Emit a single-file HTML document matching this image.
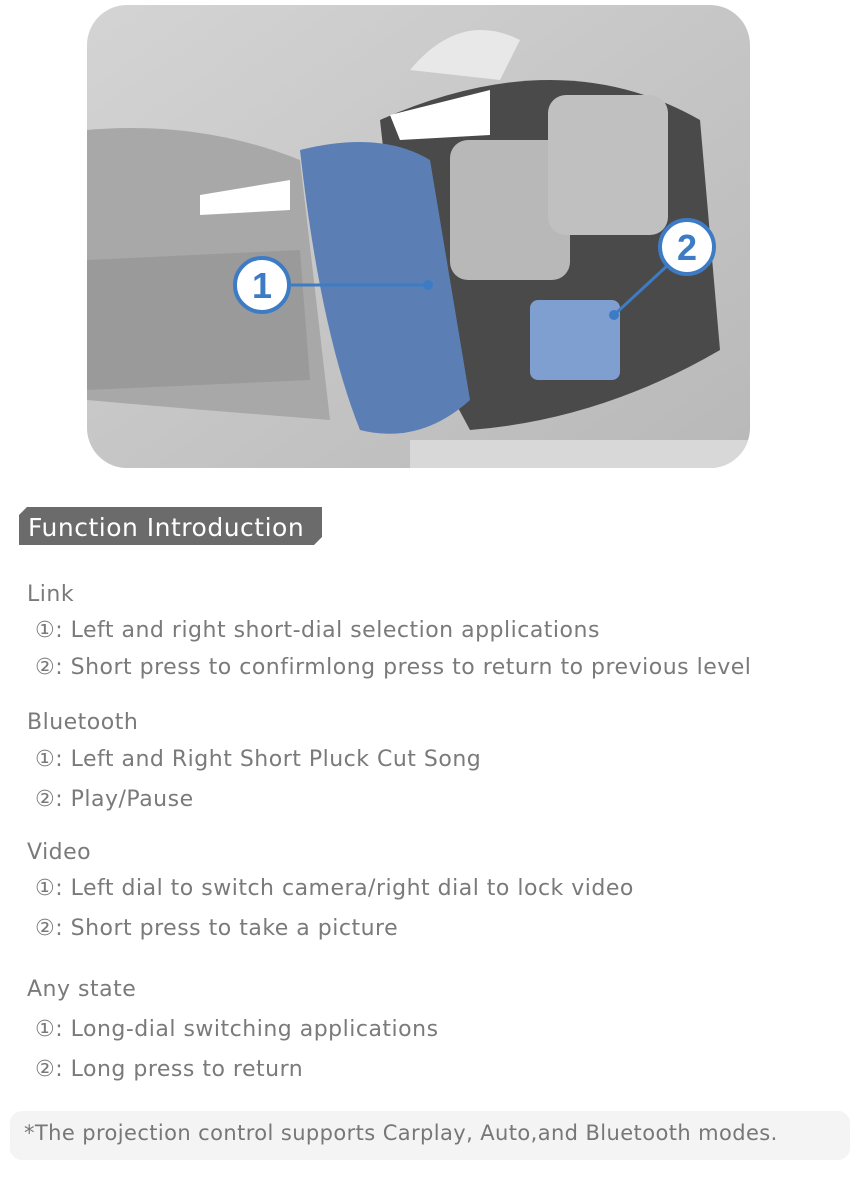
<!DOCTYPE html>
<html><head><meta charset="utf-8"><style>
body{margin:0;width:857px;height:1177px;background:#fff;position:relative;overflow:hidden;font-family:"DejaVu Sans",sans-serif;color:#7a7a7a}
.t{position:absolute;font-size:22px;letter-spacing:0.5px;white-space:nowrap}
.h{left:27px}
.i{left:35px}
</style></head><body>
<svg style="position:absolute;left:0;top:0" width="857" height="480">
<defs><linearGradient id="g" x1="0" y1="0" x2="1" y2="1"><stop offset="0" stop-color="#d4d4d4"/><stop offset="1" stop-color="#b8b8b8"/></linearGradient>
<clipPath id="c"><rect x="87" y="5" width="663" height="463" rx="40"/></clipPath></defs>
<g clip-path="url(#c)">
<rect x="87" y="5" width="663" height="463" fill="url(#g)"/>
<path d="M87 130 Q200 120 300 160 L330 420 Q200 410 87 400Z" fill="#a8a8a8"/>
<path d="M87 260 L300 250 L310 380 L87 390Z" fill="#9a9a9a"/>
<path d="M380 120 Q560 40 700 120 L720 350 Q600 420 470 430 L400 300Z" fill="#4a4a4a"/>
<path d="M300 150 Q380 130 430 160 L470 400 Q420 445 360 430 Q320 330 300 150Z" fill="#5b7fb5"/>
<rect x="450" y="140" width="120" height="140" rx="18" fill="#b8b8b8"/>
<rect x="548" y="95" width="120" height="140" rx="18" fill="#c0c0c0"/>
<rect x="530" y="300" width="90" height="80" rx="8" fill="#7e9fcf"/>
<path d="M200 195 L290 180 L290 210 L200 215Z" fill="#fff"/>
<path d="M390 115 L490 90 L490 135 L400 140Z" fill="#fff"/>
<path d="M410 70 Q460 10 520 40 L500 80 Z" fill="#e8e8e8"/>
<rect x="410" y="440" width="340" height="30" fill="#d8d8d8"/>
</g>
<line x1="290" y1="285" x2="428" y2="285" stroke="#3d7cc4" stroke-width="3"/>
<circle cx="428" cy="285" r="5" fill="#3d7cc4"/>
<circle cx="262" cy="285" r="27" fill="#fff" stroke="#3d7cc4" stroke-width="4"/>
<text x="262" y="298" text-anchor="middle" font-family="Liberation Sans" font-weight="bold" font-size="36" fill="#3d7cc4">1</text>
<line x1="668" y1="265" x2="614" y2="315" stroke="#3d7cc4" stroke-width="3"/>
<circle cx="614" cy="315" r="5" fill="#3d7cc4"/>
<circle cx="687" cy="247" r="27" fill="#fff" stroke="#3d7cc4" stroke-width="4"/>
<text x="687" y="260" text-anchor="middle" font-family="Liberation Sans" font-weight="bold" font-size="36" fill="#3d7cc4">2</text>
</svg>
<svg style="position:absolute;left:0;top:500px" width="340" height="50"><polygon points="27,7 322,7 322,37 314,45 19,45 19,15" fill="#6b6b6b"/>
<text x="28" y="36" font-family="DejaVu Sans" font-size="25" letter-spacing="0.5" fill="#fff">Function Introduction</text></svg>
<div class="t h" style="top:582px">Link</div>
<div class="t i" style="top:618px">①:  Left and right short-dial  selection applications</div>
<div class="t i" style="top:655px">②:  Short press to confirmlong press to return to previous level</div>
<div class="t h" style="top:710px">Bluetooth</div>
<div class="t i" style="top:747px">①:  Left and Right Short Pluck Cut Song</div>
<div class="t i" style="top:787px">②:  Play/Pause</div>
<div class="t h" style="top:840px">Video</div>
<div class="t i" style="top:876px">①: Left dial to switch camera/right dial to lock video</div>
<div class="t i" style="top:916px">②: Short press to take a picture</div>
<div class="t h" style="top:977px">Any state</div>
<div class="t i" style="top:1017px">①: Long-dial switching applications</div>
<div class="t i" style="top:1057px">②: Long press to return</div>
<div style="position:absolute;left:10px;top:1111px;width:840px;height:49px;background:#f4f4f4;border-radius:12px"></div>
<div class="t" style="left:24px;top:1121px;font-size:21px;letter-spacing:0.4px;color:#777">*The projection control supports Carplay, Auto,and Bluetooth modes.</div>
</body></html>
